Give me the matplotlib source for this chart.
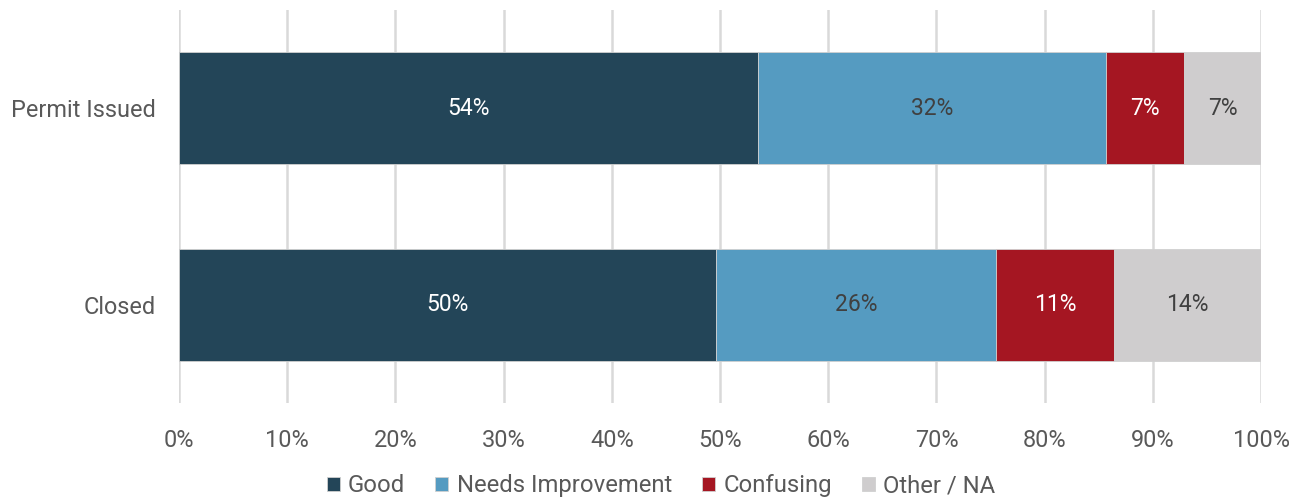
import matplotlib.pyplot as plt
import numpy as np

plt.rcParams['font.family'] = ['Roboto', 'DejaVu Sans']

stages = ['Permit Issued', 'Closed']
series = ['Good', 'Needs Improvement', 'Confusing', 'Other / NA']
good = [53.5, 49.6]
needs_improvement = [32.2, 25.9]
confusing = [7.2, 10.9]
other_na = [7.1, 13.6]

colors = ['#234558', '#559BC1', '#A51622', '#CFCDCE']
text_colors = ['white', '#404040', 'white', '#404040']

fig = plt.figure(figsize=(13.01, 4.99), dpi=100)
ax = fig.add_axes([0.1376, 0.1924, 0.8317, 0.7876])

y = np.arange(len(stages))
left = np.zeros(len(stages))
for name, vals, c, tc in zip(series, [good, needs_improvement, confusing, other_na], colors, text_colors):
    vals = np.array(vals)
    ax.barh(y, vals, left=left, height=0.57, color=c, label=name,
            edgecolor='#d0d0d0', linewidth=0.6, zorder=3)
    for yi, l, v in zip(y, left, vals):
        ax.text(l + v / 2, yi, f'{v:.0f}%', ha='center', va='center',
                fontsize=16.5, color=tc, zorder=4)
    left += vals

ax.set_xlim(0, 100)
ax.set_ylim(1.5, -0.5)
ax.set_yticks(y)
ax.set_yticklabels(stages)
ax.set_xticks(np.arange(0, 101, 10))
ax.set_xticklabels([f'{t}%' for t in range(0, 101, 10)])
ax.tick_params(axis='both', length=0, labelsize=16.9, labelcolor='#595959')
ax.tick_params(axis='x', pad=19)
ax.tick_params(axis='y', pad=16.5)
ax.grid(axis='x', color='#d9d9d9', linewidth=1.8, zorder=0)
for s in ax.spines.values():
    s.set_visible(False)

leg = fig.legend(loc='lower center', bbox_to_anchor=(0.508, -0.04), ncol=4,
                 frameon=False, fontsize=17.2, handlelength=0.55, handleheight=0.55,
                 handletextpad=0.35, columnspacing=1.25)
for t in leg.get_texts():
    t.set_color('#595959')

fig.savefig('out.png', dpi=100)
